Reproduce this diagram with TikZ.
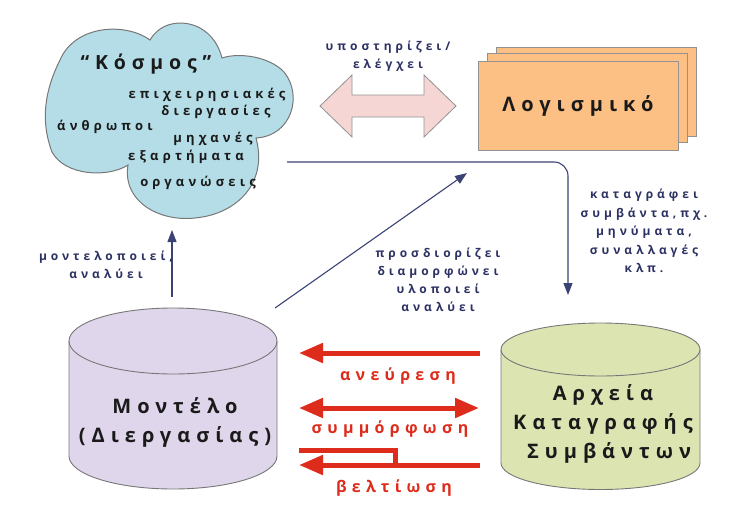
\documentclass[tikz,border=0pt]{standalone}
\usepackage{fontspec}
\setmainfont{Open Sans}
\newfontfamily\cloudfont[LetterSpace=32]{Open Sans}
\newfontfamily\navyfont[LetterSpace=33]{Open Sans}
\newfontfamily\redfont[LetterSpace=33]{Open Sans}
\newfontfamily\bigfont[LetterSpace=30]{Open Sans}
\usetikzlibrary{arrows.meta}
\definecolor{navy}{HTML}{2C3163}
\definecolor{navyline}{HTML}{3B4274}
\definecolor{redc}{HTML}{DE2C1C}
\definecolor{cloudblue}{HTML}{B5DDE8}
\definecolor{pinkc}{HTML}{F5D6D4}
\definecolor{orangec}{HTML}{FCBF84}
\definecolor{lavender}{HTML}{E0D6EC}
\definecolor{greenc}{HTML}{DCE4B2}
\definecolor{txtblack}{HTML}{1A1A1A}
\definecolor{edgegray}{HTML}{777777}
\begin{document}
\begin{tikzpicture}[x=1pt,y=-1pt,
  cloudtxt/.style={font=\fontsize{13}{15}\selectfont\cloudfont\bfseries, text=txtblack, inner sep=0},
  navytxt/.style={font=\fontsize{12}{18}\selectfont\navyfont\bfseries, text=navy, align=center, inner sep=0},
  redtxt/.style={font=\fontsize{16}{18}\selectfont\redfont\bfseries, text=redc, inner sep=0},
  bigtxt/.style={font=\fontsize{20}{29}\selectfont\bigfont\bfseries, text=txtblack, align=center, inner sep=0},
  sheet/.style={draw=edgegray!80, fill=orangec, line width=0.8pt, minimum width=200pt, minimum height=89pt, inner sep=0},
  navyarrow/.style={draw=navyline, line width=1.1pt, -{Triangle[length=12pt,width=9pt]}},
  redline/.style={draw=redc, line width=5pt},
  redarrow/.style={redline, -{Triangle[length=24pt,width=19pt]}},
  dblredarrow/.style={redline, {Triangle[length=24pt,width=19pt]}-{Triangle[length=24pt,width=19pt]}}
]
\useasboundingbox (0,0) rectangle (746,511);

% Cloud
\path[draw=edgegray, fill=cloudblue, line width=1pt]
  (128,165) .. controls (122,202) and (160,222) .. (195,218)
  .. controls (238,214) and (268,182) .. (256,138)
  .. controls (292,136) and (303,95) .. (284,72)
  .. controls (270,57) and (240,52) .. (222,58)
  .. controls (215,30) and (190,18) .. (168,25)
  .. controls (160,28) and (154,33) .. (150,40)
  .. controls (125,22) and (75,25) .. (60,60)
  .. controls (45,90) and (40,120) .. (52,152)
  .. controls (65,176) and (108,178) .. (128,165) -- cycle;
\node[cloudtxt, font=\fontsize{19.5}{21}\selectfont\bigfont\bfseries] (kosmos) at (146,64) {“Κόσμος”};
\node[cloudtxt] (w1) at (207,95) {επιχειρησιακές};
\node[cloudtxt] (w2) at (216,112) {διεργασίες};
\node[cloudtxt] (w3) at (105,127) {άνθρωποι};
\node[cloudtxt] (w4) at (213,139) {μηχανές};
\node[cloudtxt] (w5) at (186,157) {εξαρτήματα};
\node[cloudtxt] (w6) at (198,183) {οργανώσεις};

% Double block arrow
\path[draw=edgegray!80, fill=pinkc, line width=0.8pt]
  (320,106) -- (352,75) -- (352,95) -- (424,95) -- (424,75) -- (456,106)
  -- (424,137) -- (424,117) -- (352,117) -- (352,137) -- cycle;
\node[navytxt] (support) at (388,56) {υποστηρίζει/\\ελέγχει};

% Software stack
\node[sheet] (sw3) at (596,91.5) {};
\node[sheet] (sw2) at (587,98) {};
\node[sheet] (sw1) at (578,105.5) {};
\node[bigtxt] (swlabel) at (sw1) {Λογισμικό};

% Model cylinder
\node[minimum width=208pt, minimum height=182pt, inner sep=0] (model) at (173,399) {};
\path[draw=edgegray, fill=lavender, line width=0.9pt]
  (69,341) -- (69,456) arc[start angle=180, end angle=360, x radius=104pt, y radius=33pt]
  -- (277,341) arc[start angle=0, end angle=180, x radius=104pt, y radius=33pt] -- cycle;
\draw[edgegray, line width=0.9pt] (69,341) arc[start angle=180, end angle=360, x radius=104pt, y radius=33pt];
\node[bigtxt] (modellabel) at (175,422) {Μοντέλο\\(Διεργασίας)};

% Event log cylinder
\node[minimum width=199pt, minimum height=166pt, inner sep=0] (logs) at (600.5,406) {};
\path[draw=edgegray, fill=greenc, line width=0.9pt]
  (501,349.5) -- (501,463) arc[start angle=180, end angle=360, x radius=99.5pt, y radius=26.5pt]
  -- (700,349.5) arc[start angle=0, end angle=180, x radius=99.5pt, y radius=26.5pt] -- cycle;
\draw[edgegray, line width=0.9pt] (501,349.5) arc[start angle=180, end angle=360, x radius=99.5pt, y radius=26.5pt];
\node[bigtxt] (logslabel) at (603,424) {Αρχεία\\Καταγραφής\\\hspace*{12pt}Συμβάντων};

% Navy connectors
\coordinate (worldS) at (172,230);
\coordinate (modelN) at (172,297);
\draw[navyarrow] (modelN) -- (worldS);
\node[navytxt] (modeling) at (106,265) {μοντελοποιεί,\\αναλύει};

\coordinate (modelNE) at (275,308);
\coordinate (diagEnd) at (467,173);
\draw[navyarrow] (modelNE) -- (diagEnd);
\node[navytxt] (defines) at (438,280) {προσδιορίζει\\διαμορφώνει\\υλοποιεί\\αναλύει};

\coordinate (worldE) at (287,162);
\coordinate (logsN) at (568,295);
\draw[navyarrow, rounded corners=14pt] (worldE) -- (568,162) -- (logsN);
\node[navytxt, font=\fontsize{12}{18.5}\selectfont\navyfont\bfseries] (records) at (644,231) {καταγράφει\\συμβάντα,πχ.\\μηνύματα,\\συναλλαγές\\κλπ.};

% Red arrows
\coordinate (r1s) at (480,353);
\coordinate (r1e) at (299,353);
\draw[redarrow] (r1s) -- (r1e);
\node[redtxt] (discovery) at (398,376) {ανεύρεση};

\coordinate (r2a) at (299,408);
\coordinate (r2b) at (479,408);
\draw[dblredarrow] (r2a) -- (r2b);
\node[redtxt] (conformance) at (390,429) {συμμόρφωση};

\coordinate (r3s) at (480,465);
\coordinate (r3e) at (299,465);
\coordinate (r3top) at (299,450);
\coordinate (r3corner) at (395,450);
\draw[redarrow] (r3s) -- (r3e);
\draw[redline] (r3top) -- (r3corner) -- (395,467.5);
\node[redtxt] (enhancement) at (394,488) {βελτίωση};
\end{tikzpicture}
\end{document}
